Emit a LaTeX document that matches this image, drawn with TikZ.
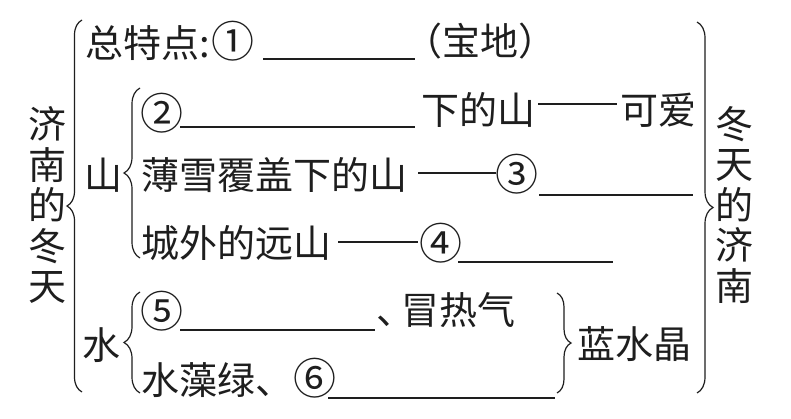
\documentclass[tikz,border=0pt]{standalone}
\usepackage{fontspec}
\newfontfamily\cjk{Noto Sans CJK SC}
\usetikzlibrary{decorations.pathreplacing}
\definecolor{ink}{HTML}{1E1E1E}
\newcommand{\cnum}[1]{{\fontsize{43}{43}\selectfont #1}}
\begin{document}
\begin{tikzpicture}[x=1pt,y=-1pt,
  txt/.style={font=\cjk\fontsize{38}{38}\selectfont, inner sep=0pt, anchor=west, text=ink},
  vtxt/.style={font=\cjk\fontsize{38}{40.5}\selectfont, inner sep=0pt, align=center, text=ink},
  blank/.style={line width=1.3pt, draw=ink},
  dashline/.style={line width=1.3pt, draw=ink},
  brc/.style={decorate, decoration={brace, amplitude=#1}, line width=1.2pt, draw=ink}]
\useasboundingbox[fill=white] (0,0) rectangle (791,419);

% vertical titles
\node[vtxt] (left) at (47,205) {济\\南\\的\\冬\\天};
\node[vtxt] (right) at (734,205) {冬\\天\\的\\济\\南};

% big braces
\coordinate (lbB) at (82,392); \coordinate (lbT) at (82,20);
\draw[brc=15pt] (lbB) -- (lbT);
\coordinate (rbT) at (697,22); \coordinate (rbB) at (697,393);
\draw[brc=16pt] (rbT) -- (rbB);

% row 1
\node[txt] (zong) at (85,41) {总特点:\hspace{2pt}\cnum{①}};
\coordinate (u1a) at (263,59); \coordinate (u1b) at (415,59);
\draw[blank] (u1a) -- (u1b);
\node[txt] (baodi) at (404,41) {（宝地）};

% mountain group
\node[txt] (shan) at (84,175) {山};
\coordinate (sbB) at (140,258); \coordinate (sbT) at (140,88);
\draw[brc=16pt] (sbB) -- (sbT);

\node[txt] (c2) at (140,113) {\cnum{②}};
\coordinate (u2a) at (180,127); \coordinate (u2b) at (415,127);
\draw[blank] (u2a) -- (u2b);
\node[txt] (xia) at (421,110) {下的山};
\coordinate (d2a) at (538,104); \coordinate (d2b) at (617,104);
\draw[dashline] (d2a) -- (d2b);
\node[txt] (keai) at (620,110) {可爱};

\node[txt] (bao) at (141,175) {薄雪覆盖下的山};
\coordinate (d3a) at (418,173); \coordinate (d3b) at (496,173);
\draw[dashline] (d3a) -- (d3b);
\node[txt] (c3) at (495,174) {\cnum{③}};
\coordinate (u3a) at (539,195); \coordinate (u3b) at (693,195);
\draw[blank] (u3a) -- (u3b);

\node[txt] (cheng) at (141,243) {城外的远山};
\coordinate (d4a) at (338,242); \coordinate (d4b) at (418,242);
\draw[dashline] (d4a) -- (d4b);
\node[txt] (c4) at (419,243) {\cnum{④}};
\coordinate (u4a) at (458,262); \coordinate (u4b) at (613,262);
\draw[blank] (u4a) -- (u4b);

% water group
\node[txt] (shui) at (82,345) {水};
\coordinate (wbB) at (140,393); \coordinate (wbT) at (140,292);
\draw[brc=16pt] (wbB) -- (wbT);

\node[txt] (c5) at (140,311) {\cnum{⑤}};
\coordinate (u5a) at (180,330); \coordinate (u5b) at (375,330);
\draw[blank] (u5a) -- (u5b);
\node[txt] (mao) at (376,310) {、\hspace{-13pt}冒热气};

\node[txt] (zao) at (141,378) {水藻绿、\cnum{⑥}};
\coordinate (u6a) at (328,398); \coordinate (u6b) at (555,398);
\draw[blank] (u6a) -- (u6b);

\coordinate (rwT) at (557,293); \coordinate (rwB) at (557,393);
\draw[brc=14pt] (rwT) -- (rwB);
\node[txt] (lan) at (577,344) {蓝水晶};
\end{tikzpicture}
\end{document}
